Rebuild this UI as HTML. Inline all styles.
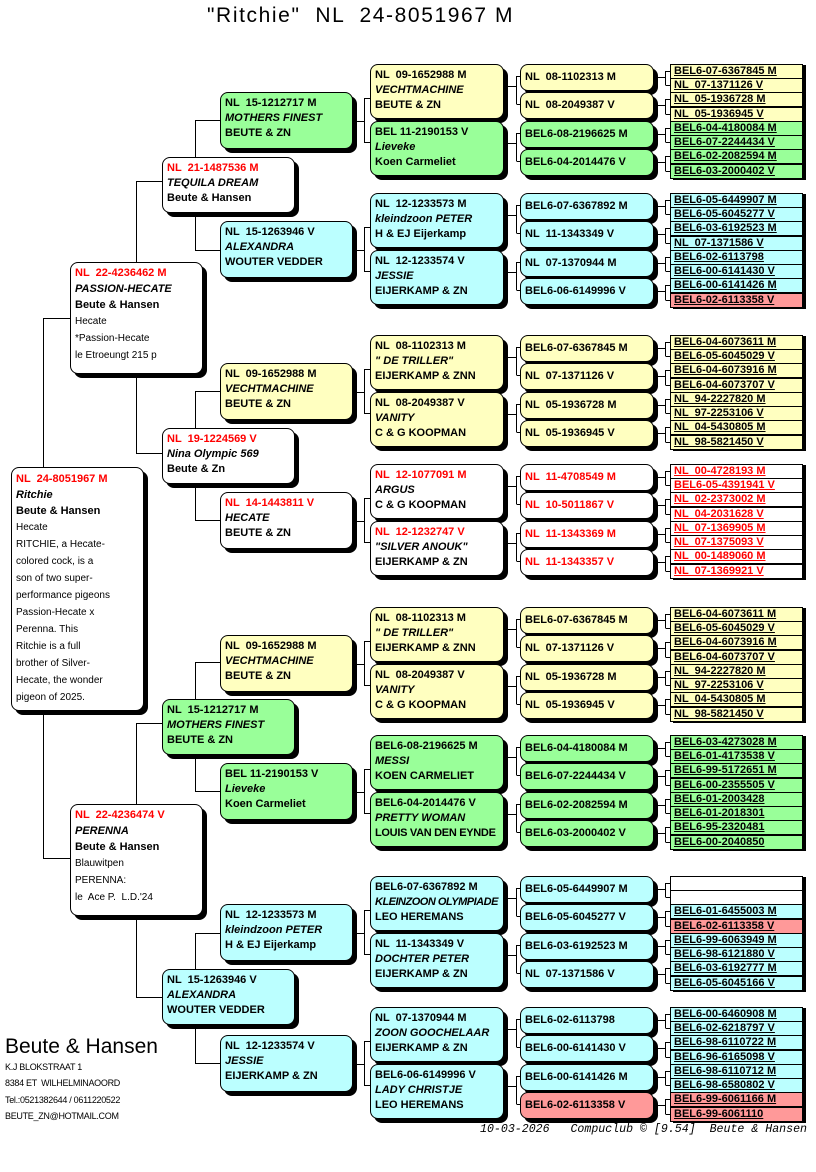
<!DOCTYPE html>
<html><head><meta charset="utf-8">
<style>
body{margin:0;width:816px;height:1172px;position:relative;background:#fff;overflow:hidden;font-family:"Liberation Sans",sans-serif}
.b{position:absolute;box-sizing:border-box;border:1px solid #000;border-radius:8px;box-shadow:4px 4px 0 #000;padding:3px 0 0 4px;font:bold 11px/15px "Liberation Sans",sans-serif;white-space:pre;overflow:hidden;color:#000}
.g4{left:220px;width:133px;height:57px}
.g5{left:370px;width:134px;height:55px}
.g6{left:520px;width:134px;height:27px;padding-top:5px;line-height:14px}
.g3{left:162px;width:133px;height:56px}
.g2{left:70px;width:133px;height:112px;padding-top:2px;line-height:16px}
.s{position:absolute;left:670px;width:133px;height:15px;box-sizing:border-box;border:1px solid #000;box-shadow:3px 1px 0 #000;font:bold 11px/13px "Liberation Sans",sans-serif;padding-left:3px;white-space:pre;text-decoration:underline;overflow:hidden}
.y{background:#ffffc0}.g{background:#99ff99}.c{background:#bbffff}.w{background:#fff}.p{background:#ff9999}
.r{color:#f00}
.n{font-weight:normal;font-size:10px}
</style></head><body>
<div style="position:absolute;left:207px;top:4px;font-size:21px;letter-spacing:1.6px;white-space:pre">"Ritchie"  NL  24-8051967 M</div>

<svg width="816" height="1172" style="position:absolute;left:0;top:0" shape-rendering="crispEdges">
<defs>
<path id="gp" fill="none" stroke="#000" stroke-width="1" d="M352 57.5H364.5M364.5 34V79M364.5 34.5H370M364.5 78.5H370
M503 22.5H516.5M516.5 12V40M516.5 12.5H520M516.5 40.5H520
M503 79.5H516.5M516.5 69V97M516.5 69.5H520M516.5 97.5H520
M653 13.5H665.5M665.5 7V21M665.5 7.5H670M665.5 21.5H670
M653 41.5H665.5M665.5 35V50M665.5 35.5H670M665.5 50.5H670
M653 70.5H665.5M665.5 64V78M665.5 64.5H670M665.5 78.5H670
M653 98.5H665.5M665.5 92V107M665.5 92.5H670M665.5 107.5H670"/>
</defs>
<use href="#gp" transform="translate(0,64)"/>
<use href="#gp" transform="translate(0,193)"/>
<use href="#gp" transform="translate(0,335)"/>
<use href="#gp" transform="translate(0,464)"/>
<use href="#gp" transform="translate(0,607)"/>
<use href="#gp" transform="translate(0,735)"/>
<use href="#gp" transform="translate(0,876)"/>
<use href="#gp" transform="translate(0,1007)"/>
<path fill="none" stroke="#000" stroke-width="1" d="M43.5 467V318.5H70M43.5 711V858.5H70
M136.5 262V181.5H162M136.5 373V453.5H162
M136.5 804V723.5H162M136.5 915V997.5H162
M195.5 157V120.5H220M195.5 212V250.5H220
M195.5 428V391.5H220M195.5 483V520.5H220
M195.5 699V662.5H220M195.5 753V791.5H220
M195.5 969V933.5H220M195.5 1025V1063.5H220"/>
</svg>

<!-- root -->
<div class="b w" style="left:11px;top:467px;width:133px;height:244px;line-height:16px"><span class="r">NL  24-8051967 M</span>
<i>Ritchie</i>
Beute &amp; Hansen
<span class="n">Hecate
RITCHIE, a Hecate-
colored cock, is a
son of two super-
performance pigeons
Passion-Hecate x
Perenna. This
Ritchie is a full
brother of Silver-
Hecate, the wonder
pigeon of 2025.</span></div>

<!-- gen2 -->
<div class="b w g2" style="top:262px"><span class="r">NL  22-4236462 M</span>
<i>PASSION-HECATE</i>
Beute &amp; Hansen
<span class="n">Hecate
*Passion-Hecate
le Etroeungt 215 p</span></div>
<div class="b w g2" style="top:804px"><span class="r">NL  22-4236474 V</span>
<i>PERENNA</i>
Beute &amp; Hansen
<span class="n">Blauwitpen
PERENNA:
le  Ace P.  L.D.'24</span></div>

<!-- gen3 -->
<div class="b w g3" style="top:157px"><span class="r">NL  21-1487536 M</span>
<i>TEQUILA DREAM</i>
Beute &amp; Hansen</div>
<div class="b w g3" style="top:428px"><span class="r">NL  19-1224569 V</span>
<i>Nina Olympic 569</i>
Beute &amp; Zn</div>
<div class="b g g3" style="top:699px">NL  15-1212717 M
<i>MOTHERS FINEST</i>
BEUTE &amp; ZN</div>
<div class="b c g3" style="top:969px">NL  15-1263946 V
<i>ALEXANDRA</i>
WOUTER VEDDER</div>

<!-- gen4 -->
<div class="b g g4" style="top:92px">NL  15-1212717 M
<i>MOTHERS FINEST</i>
BEUTE &amp; ZN</div>
<div class="b c g4" style="top:221px">NL  15-1263946 V
<i>ALEXANDRA</i>
WOUTER VEDDER</div>
<div class="b y g4" style="top:363px">NL  09-1652988 M
<i>VECHTMACHINE</i>
BEUTE &amp; ZN</div>
<div class="b w g4" style="top:492px"><span class="r">NL  14-1443811 V</span>
<i>HECATE</i>
BEUTE &amp; ZN</div>
<div class="b y g4" style="top:635px">NL  09-1652988 M
<i>VECHTMACHINE</i>
BEUTE &amp; ZN</div>
<div class="b g g4" style="top:763px">BEL 11-2190153 V
<i>Lieveke</i>
Koen Carmeliet</div>
<div class="b c g4" style="top:904px">NL  12-1233573 M
<i>kleindzoon PETER</i>
H &amp; EJ Eijerkamp</div>
<div class="b c g4" style="top:1035px">NL  12-1233574 V
<i>JESSIE</i>
EIJERKAMP &amp; ZN</div>

<!-- gen5 -->
<div class="b y g5" style="top:64px">NL  09-1652988 M
<i>VECHTMACHINE</i>
BEUTE &amp; ZN</div>
<div class="b g g5" style="top:121px">BEL 11-2190153 V
<i>Lieveke</i>
Koen Carmeliet</div>
<div class="b c g5" style="top:193px">NL  12-1233573 M
<i>kleindzoon PETER</i>
H &amp; EJ Eijerkamp</div>
<div class="b c g5" style="top:250px">NL  12-1233574 V
<i>JESSIE</i>
EIJERKAMP &amp; ZN</div>
<div class="b y g5" style="top:335px">NL  08-1102313 M
<i>" DE TRILLER"</i>
EIJERKAMP &amp; ZNN</div>
<div class="b y g5" style="top:392px">NL  08-2049387 V
<i>VANITY</i>
C &amp; G KOOPMAN</div>
<div class="b w g5" style="top:464px"><span class="r">NL  12-1077091 M</span>
<i>ARGUS</i>
C &amp; G KOOPMAN</div>
<div class="b w g5" style="top:521px"><span class="r">NL  12-1232747 V</span>
<i>"SILVER ANOUK"</i>
EIJERKAMP &amp; ZN</div>
<div class="b y g5" style="top:607px">NL  08-1102313 M
<i>" DE TRILLER"</i>
EIJERKAMP &amp; ZNN</div>
<div class="b y g5" style="top:664px">NL  08-2049387 V
<i>VANITY</i>
C &amp; G KOOPMAN</div>
<div class="b g g5" style="top:735px">BEL6-08-2196625 M
<i>MESSI</i>
KOEN CARMELIET</div>
<div class="b g g5" style="top:792px">BEL6-04-2014476 V
<i>PRETTY WOMAN</i>
<span style="letter-spacing:-0.3px">LOUIS VAN DEN EYNDE</span></div>
<div class="b c g5" style="top:876px">BEL6-07-6367892 M
<i style="letter-spacing:-0.5px">KLEINZOON OLYMPIADE</i>
LEO HEREMANS</div>
<div class="b c g5" style="top:933px">NL  11-1343349 V
<i>DOCHTER PETER</i>
EIJERKAMP &amp; ZN</div>
<div class="b c g5" style="top:1007px">NL  07-1370944 M
<i>ZOON GOOCHELAAR</i>
EIJERKAMP &amp; ZN</div>
<div class="b c g5" style="top:1064px">BEL6-06-6149996 V
<i>LADY CHRISTJE</i>
LEO HEREMANS</div>

<!-- gen6 -->
<div class="b y g6" style="top:64px">NL  08-1102313 M</div>
<div class="b y g6" style="top:92px">NL  08-2049387 V</div>
<div class="b g g6" style="top:121px">BEL6-08-2196625 M</div>
<div class="b g g6" style="top:149px">BEL6-04-2014476 V</div>
<div class="b c g6" style="top:193px">BEL6-07-6367892 M</div>
<div class="b c g6" style="top:221px">NL  11-1343349 V</div>
<div class="b c g6" style="top:250px">NL  07-1370944 M</div>
<div class="b c g6" style="top:278px">BEL6-06-6149996 V</div>
<div class="b y g6" style="top:335px">BEL6-07-6367845 M</div>
<div class="b y g6" style="top:363px">NL  07-1371126 V</div>
<div class="b y g6" style="top:392px">NL  05-1936728 M</div>
<div class="b y g6" style="top:420px">NL  05-1936945 V</div>
<div class="b w g6 r" style="top:464px">NL  11-4708549 M</div>
<div class="b w g6 r" style="top:492px">NL  10-5011867 V</div>
<div class="b w g6 r" style="top:521px">NL  11-1343369 M</div>
<div class="b w g6 r" style="top:549px">NL  11-1343357 V</div>
<div class="b y g6" style="top:607px">BEL6-07-6367845 M</div>
<div class="b y g6" style="top:635px">NL  07-1371126 V</div>
<div class="b y g6" style="top:664px">NL  05-1936728 M</div>
<div class="b y g6" style="top:692px">NL  05-1936945 V</div>
<div class="b g g6" style="top:735px">BEL6-04-4180084 M</div>
<div class="b g g6" style="top:763px">BEL6-07-2244434 V</div>
<div class="b g g6" style="top:792px">BEL6-02-2082594 M</div>
<div class="b g g6" style="top:820px">BEL6-03-2000402 V</div>
<div class="b c g6" style="top:876px">BEL6-05-6449907 M</div>
<div class="b c g6" style="top:904px">BEL6-05-6045277 V</div>
<div class="b c g6" style="top:933px">BEL6-03-6192523 M</div>
<div class="b c g6" style="top:961px">NL  07-1371586 V</div>
<div class="b c g6" style="top:1007px">BEL6-02-6113798</div>
<div class="b c g6" style="top:1035px">BEL6-00-6141430 V</div>
<div class="b c g6" style="top:1064px">BEL6-00-6141426 M</div>
<div class="b p g6" style="top:1092px">BEL6-02-6113358 V</div>

<!-- gen7 -->
<div class="s y" style="top:64px">BEL6-07-6367845 M</div>
<div class="s y" style="top:78px">NL  07-1371126 V</div>
<div class="s y" style="top:92px">NL  05-1936728 M</div>
<div class="s y" style="top:107px">NL  05-1936945 V</div>
<div class="s g" style="top:121px">BEL6-04-4180084 M</div>
<div class="s g" style="top:135px">BEL6-07-2244434 V</div>
<div class="s g" style="top:149px">BEL6-02-2082594 M</div>
<div class="s g" style="top:164px">BEL6-03-2000402 V</div>

<div class="s c" style="top:193px">BEL6-05-6449907 M</div>
<div class="s c" style="top:207px">BEL6-05-6045277 V</div>
<div class="s c" style="top:221px">BEL6-03-6192523 M</div>
<div class="s c" style="top:236px">NL  07-1371586 V</div>
<div class="s c" style="top:250px">BEL6-02-6113798</div>
<div class="s c" style="top:264px">BEL6-00-6141430 V</div>
<div class="s c" style="top:278px">BEL6-00-6141426 M</div>
<div class="s p" style="top:293px">BEL6-02-6113358 V</div>

<div class="s y" style="top:335px">BEL6-04-6073611 M</div>
<div class="s y" style="top:349px">BEL6-05-6045029 V</div>
<div class="s y" style="top:363px">BEL6-04-6073916 M</div>
<div class="s y" style="top:378px">BEL6-04-6073707 V</div>
<div class="s y" style="top:392px">NL  94-2227820 M</div>
<div class="s y" style="top:406px">NL  97-2253106 V</div>
<div class="s y" style="top:420px">NL  04-5430805 M</div>
<div class="s y" style="top:435px">NL  98-5821450 V</div>

<div class="s w r" style="top:464px">NL  00-4728193 M</div>
<div class="s w r" style="top:478px">BEL6-05-4391941 V</div>
<div class="s w r" style="top:492px">NL  02-2373002 M</div>
<div class="s w r" style="top:507px">NL  04-2031628 V</div>
<div class="s w r" style="top:521px">NL  07-1369905 M</div>
<div class="s w r" style="top:535px">NL  07-1375093 V</div>
<div class="s w r" style="top:549px">NL  00-1489060 M</div>
<div class="s w r" style="top:564px">NL  07-1369921 V</div>

<div class="s y" style="top:607px">BEL6-04-6073611 M</div>
<div class="s y" style="top:621px">BEL6-05-6045029 V</div>
<div class="s y" style="top:635px">BEL6-04-6073916 M</div>
<div class="s y" style="top:650px">BEL6-04-6073707 V</div>
<div class="s y" style="top:664px">NL  94-2227820 M</div>
<div class="s y" style="top:678px">NL  97-2253106 V</div>
<div class="s y" style="top:692px">NL  04-5430805 M</div>
<div class="s y" style="top:707px">NL  98-5821450 V</div>

<div class="s g" style="top:735px">BEL6-03-4273028 M</div>
<div class="s g" style="top:749px">BEL6-01-4173538 V</div>
<div class="s g" style="top:763px">BEL6-99-5172651 M</div>
<div class="s g" style="top:778px">BEL6-00-2355505 V</div>
<div class="s g" style="top:792px">BEL6-01-2003428</div>
<div class="s g" style="top:806px">BEL6-01-2018301</div>
<div class="s g" style="top:820px">BEL6-95-2320481</div>
<div class="s g" style="top:835px">BEL6-00-2040850</div>

<div class="s w" style="top:876px"></div>
<div class="s w" style="top:890px"></div>
<div class="s c" style="top:904px">BEL6-01-6455003 M</div>
<div class="s p" style="top:919px">BEL6-02-6113358 V</div>
<div class="s c" style="top:933px">BEL6-99-6063949 M</div>
<div class="s c" style="top:947px">BEL6-98-6121880 V</div>
<div class="s c" style="top:961px">BEL6-03-6192777 M</div>
<div class="s c" style="top:976px">BEL6-05-6045166 V</div>

<div class="s c" style="top:1007px">BEL6-00-6460908 M</div>
<div class="s c" style="top:1021px">BEL6-02-6218797 V</div>
<div class="s c" style="top:1035px">BEL6-98-6110722 M</div>
<div class="s c" style="top:1050px">BEL6-96-6165098 V</div>
<div class="s c" style="top:1064px">BEL6-98-6110712 M</div>
<div class="s c" style="top:1078px">BEL6-98-6580802 V</div>
<div class="s p" style="top:1092px">BEL6-99-6061166 M</div>
<div class="s p" style="top:1107px">BEL6-99-6061110</div>

<!-- bottom left -->
<div style="position:absolute;left:5px;top:1035px;font-size:21px;white-space:pre">Beute &amp; Hansen</div>
<div style="position:absolute;left:5px;top:1059px;font-size:9px;line-height:16.3px;white-space:pre;letter-spacing:-0.3px">K.J BLOKSTRAAT 1
8384 ET  WILHELMINAOORD
Tel.:0521382644 / 0611220522
BEUTE_ZN@HOTMAIL.COM</div>

<div style="position:absolute;left:480px;top:1123px;font:italic 11.6px/14px 'Liberation Mono',monospace;white-space:pre">10-03-2026   Compuclub © [9.54]  Beute &amp; Hansen</div>
</body></html>
